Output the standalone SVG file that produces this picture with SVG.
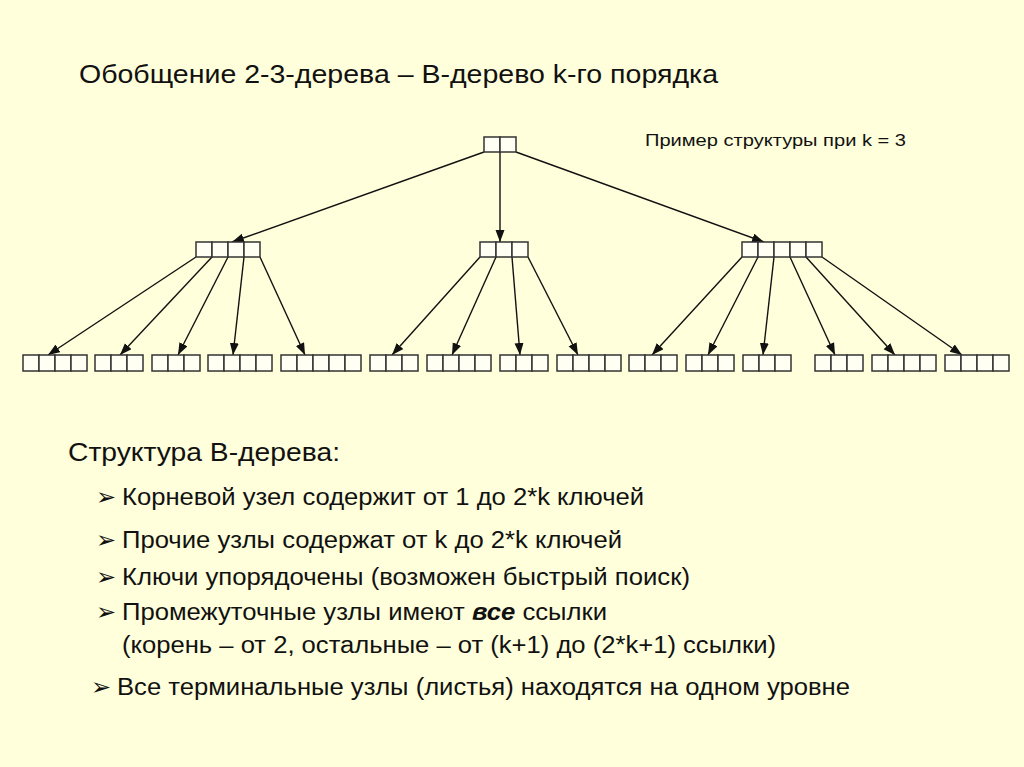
<svg xmlns="http://www.w3.org/2000/svg" width="1024" height="767" viewBox="0 0 1024 767">
<style>
.cell{fill:#FFFFF4;stroke:#333;stroke-width:1.5}
.edge{stroke:#111;stroke-width:1.4;fill:none;marker-end:url(#arr)}
.t{font-family:"Liberation Sans",Arial,sans-serif;fill:#111}
.b{font-family:"DejaVu Sans",sans-serif;fill:#111}
</style>
<defs>
<marker id="arr" markerUnits="userSpaceOnUse" markerWidth="13" markerHeight="10" refX="12" refY="4.5" orient="auto">
<path d="M0,0 L12,4.5 L0,9 Z" fill="#111"/>
</marker>
</defs>
<rect width="1024" height="767" fill="#FFFFDB"/>
<text class="t" x="79" y="83" font-size="25" textLength="639" lengthAdjust="spacingAndGlyphs">Обобщение 2-3-дерева – В-дерево k-го порядка</text>
<text class="t" x="645" y="146" font-size="17" textLength="261" lengthAdjust="spacingAndGlyphs">Пример структуры при k = 3</text>

<g id="connectors">
<line class="edge" x1="484" y1="152" x2="232" y2="242"/>
<line class="edge" x1="500" y1="152" x2="500" y2="242"/>
<line class="edge" x1="516" y1="152" x2="764" y2="242"/>
<line class="edge" x1="196" y1="257" x2="48" y2="355"/>
<line class="edge" x1="212" y1="257" x2="120" y2="355"/>
<line class="edge" x1="228" y1="257" x2="178" y2="355"/>
<line class="edge" x1="244" y1="257" x2="233" y2="355"/>
<line class="edge" x1="260" y1="257" x2="305" y2="355"/>
<line class="edge" x1="480" y1="257" x2="392" y2="355"/>
<line class="edge" x1="496" y1="257" x2="452" y2="355"/>
<line class="edge" x1="512" y1="257" x2="520" y2="355"/>
<line class="edge" x1="528" y1="257" x2="578" y2="355"/>
<line class="edge" x1="742" y1="257" x2="652" y2="355"/>
<line class="edge" x1="758" y1="257" x2="708" y2="355"/>
<line class="edge" x1="774" y1="257" x2="763" y2="355"/>
<line class="edge" x1="790" y1="257" x2="835" y2="355"/>
<line class="edge" x1="806" y1="257" x2="895" y2="355"/>
<line class="edge" x1="822" y1="257" x2="962" y2="355"/>
</g>

<g id="root"><rect class="cell" x="484" y="137" width="16" height="15"/><rect class="cell" x="500" y="137" width="16" height="15"/></g>

<g id="mid-left"><rect class="cell" x="196" y="242" width="16" height="15"/><rect class="cell" x="212" y="242" width="16" height="15"/><rect class="cell" x="228" y="242" width="16" height="15"/><rect class="cell" x="244" y="242" width="16" height="15"/></g>
<g id="mid-center"><rect class="cell" x="480" y="242" width="16" height="15"/><rect class="cell" x="496" y="242" width="16" height="15"/><rect class="cell" x="512" y="242" width="16" height="15"/></g>
<g id="mid-right"><rect class="cell" x="742" y="242" width="16" height="15"/><rect class="cell" x="758" y="242" width="16" height="15"/><rect class="cell" x="774" y="242" width="16" height="15"/><rect class="cell" x="790" y="242" width="16" height="15"/><rect class="cell" x="806" y="242" width="16" height="15"/></g>

<g id="leaf1"><rect class="cell" x="23" y="355" width="16" height="16"/><rect class="cell" x="39" y="355" width="16" height="16"/><rect class="cell" x="55" y="355" width="16" height="16"/><rect class="cell" x="71" y="355" width="16" height="16"/></g>
<g id="leaf2"><rect class="cell" x="95" y="355" width="16" height="16"/><rect class="cell" x="111" y="355" width="16" height="16"/><rect class="cell" x="127" y="355" width="16" height="16"/></g>
<g id="leaf3"><rect class="cell" x="152" y="355" width="16" height="16"/><rect class="cell" x="168" y="355" width="16" height="16"/><rect class="cell" x="184" y="355" width="16" height="16"/></g>
<g id="leaf4"><rect class="cell" x="208" y="355" width="16" height="16"/><rect class="cell" x="224" y="355" width="16" height="16"/><rect class="cell" x="240" y="355" width="16" height="16"/><rect class="cell" x="256" y="355" width="16" height="16"/></g>
<g id="leaf5"><rect class="cell" x="281" y="355" width="16" height="16"/><rect class="cell" x="297" y="355" width="16" height="16"/><rect class="cell" x="313" y="355" width="16" height="16"/><rect class="cell" x="329" y="355" width="16" height="16"/><rect class="cell" x="345" y="355" width="16" height="16"/></g>
<g id="leaf6"><rect class="cell" x="370" y="355" width="16" height="16"/><rect class="cell" x="386" y="355" width="16" height="16"/><rect class="cell" x="402" y="355" width="16" height="16"/></g>
<g id="leaf7"><rect class="cell" x="427" y="355" width="16" height="16"/><rect class="cell" x="443" y="355" width="16" height="16"/><rect class="cell" x="459" y="355" width="16" height="16"/><rect class="cell" x="475" y="355" width="16" height="16"/></g>
<g id="leaf8"><rect class="cell" x="500" y="355" width="16" height="16"/><rect class="cell" x="516" y="355" width="16" height="16"/><rect class="cell" x="532" y="355" width="16" height="16"/></g>
<g id="leaf9"><rect class="cell" x="557" y="355" width="16" height="16"/><rect class="cell" x="573" y="355" width="16" height="16"/><rect class="cell" x="589" y="355" width="16" height="16"/><rect class="cell" x="605" y="355" width="16" height="16"/></g>
<g id="leaf10"><rect class="cell" x="629" y="355" width="16" height="16"/><rect class="cell" x="645" y="355" width="16" height="16"/><rect class="cell" x="661" y="355" width="16" height="16"/></g>
<g id="leaf11"><rect class="cell" x="686" y="355" width="16" height="16"/><rect class="cell" x="702" y="355" width="16" height="16"/><rect class="cell" x="718" y="355" width="16" height="16"/></g>
<g id="leaf12"><rect class="cell" x="743" y="355" width="16" height="16"/><rect class="cell" x="759" y="355" width="16" height="16"/><rect class="cell" x="775" y="355" width="16" height="16"/></g>
<g id="leaf13"><rect class="cell" x="815" y="355" width="16" height="16"/><rect class="cell" x="831" y="355" width="16" height="16"/><rect class="cell" x="847" y="355" width="16" height="16"/></g>
<g id="leaf14"><rect class="cell" x="872" y="355" width="16" height="16"/><rect class="cell" x="888" y="355" width="16" height="16"/><rect class="cell" x="904" y="355" width="16" height="16"/><rect class="cell" x="920" y="355" width="16" height="16"/></g>
<g id="leaf15"><rect class="cell" x="945" y="355" width="16" height="16"/><rect class="cell" x="961" y="355" width="16" height="16"/><rect class="cell" x="977" y="355" width="16" height="16"/><rect class="cell" x="993" y="355" width="16" height="16"/></g>

<text class="t" x="68" y="461" font-size="25" textLength="272" lengthAdjust="spacingAndGlyphs">Структура В-дерева:</text>
<text class="b" x="96" y="505" font-size="24">➢</text>
<text class="t" x="122" y="505" font-size="23" textLength="522" lengthAdjust="spacingAndGlyphs">Корневой узел содержит от 1 до 2*k ключей</text>
<text class="b" x="96" y="548" font-size="24">➢</text>
<text class="t" x="122" y="548" font-size="23" textLength="500" lengthAdjust="spacingAndGlyphs">Прочие узлы содержат от k до 2*k ключей</text>
<text class="b" x="96" y="585" font-size="24">➢</text>
<text class="t" x="122" y="585" font-size="23" textLength="568" lengthAdjust="spacingAndGlyphs">Ключи упорядочены (возможен быстрый поиск)</text>
<text class="b" x="96" y="620" font-size="24">➢</text>
<text class="t" x="122" y="620" font-size="23" textLength="485" lengthAdjust="spacingAndGlyphs">Промежуточные узлы имеют <tspan font-weight="bold" font-style="italic">все</tspan> ссылки</text>
<text class="t" x="122" y="653" font-size="23" textLength="654" lengthAdjust="spacingAndGlyphs">(корень – от 2, остальные – от (k+1) до (2*k+1) ссылки)</text>
<text class="b" x="91" y="695" font-size="24">➢</text>
<text class="t" x="117" y="695" font-size="23" textLength="733" lengthAdjust="spacingAndGlyphs">Все терминальные узлы (листья) находятся на одном уровне</text>
</svg>
